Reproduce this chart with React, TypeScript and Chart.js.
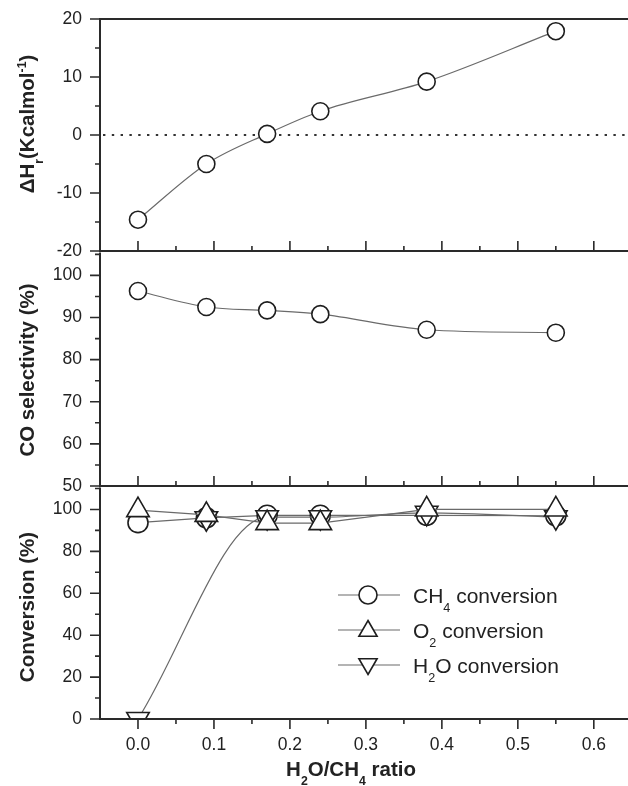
import React, { useEffect, useRef } from 'react';
import { Chart, registerables } from 'chart.js';

Chart.register(...registerables);

// ---------------- data ----------------
const ratio = [0, 0.09, 0.17, 0.24, 0.38, 0.55];
const deltaH = [-14.6, -5.0, 0.2, 4.1, 9.2, 17.9];
const coSelectivity = [96.3, 92.5, 91.7, 90.8, 87.1, 86.4];
const ch4Conversion = [93.7, 96.0, 97.2, 97.2, 97.2, 97.0];
const o2Conversion = [99.7, 97.4, 93.5, 93.5, 100.0, 100.0];
const h2oConversion = [0, 95.8, 96.3, 96.3, 98.4, 96.3];
const zeroLineValue = 0;

const xMin = -0.05;
const xMax = 0.645;
const xStep = 0.1;

// ---------------- style ----------------
const FAMILY = "'Liberation Sans', Arial, Helvetica, sans-serif";
const AXIS = '#2a2a2a';
const LINE = '#6a6a6a';
const MARK = '#1e1e1e';
const TEXT = '#222222';
const TICK_FONT = 17.5;
const TITLE_FONT = 20.5;
const LEGEND_FONT = 21;
const PLOT_LEFT = 100;

type Seg = { t: string; s?: 'sub' | 'sup' };

function drawRich(
  ctx: CanvasRenderingContext2D,
  segs: Seg[],
  x: number,
  y: number,
  size: number,
  weight: string,
  rotate = 0,
  align: 'center' | 'left' = 'center'
) {
  const small = size * 0.6;
  const fontOf = (sz: number) => `${weight} ${sz}px ${FAMILY}`;
  ctx.save();
  let total = 0;
  const widths = segs.map((seg) => {
    ctx.font = fontOf(seg.s ? small : size);
    const w = ctx.measureText(seg.t).width;
    total += w;
    return w;
  });
  ctx.translate(x, y);
  if (rotate) ctx.rotate(rotate);
  ctx.fillStyle = TEXT;
  ctx.textBaseline = 'alphabetic';
  ctx.textAlign = 'left';
  let cx = align === 'center' ? -total / 2 : 0;
  segs.forEach((seg, i) => {
    ctx.font = fontOf(seg.s ? small : size);
    const dy = seg.s === 'sub' ? size * 0.42 : seg.s === 'sup' ? -size * 0.4 : 0;
    ctx.fillText(seg.t, cx, dy);
    cx += widths[i];
  });
  ctx.restore();
}

function markerPath(ctx: CanvasRenderingContext2D, shape: string, x: number, y: number, r: number) {
  ctx.beginPath();
  if (shape === 'circle') {
    ctx.arc(x, y, r, 0, Math.PI * 2);
  } else {
    const s = Math.sin((2 * Math.PI) / 3) * r;
    const d = shape === 'down' ? -1 : 1;
    ctx.moveTo(x, y - d * r);
    ctx.lineTo(x + s, y + (d * r) / 2);
    ctx.lineTo(x - s, y + (d * r) / 2);
    ctx.closePath();
  }
}

type FrameCfg = {
  drawTop?: boolean;
  xTickDir: number;
  yMinor: number;
  zeroLine?: boolean;
  titles: { segs: Seg[]; x: number; y: number; rotate: number }[];
  legend?: { segs: Seg[]; shape: string; y: number; my: number; r: number }[];
};

function makePlugin(cfg: FrameCfg) {
  return {
    id: 'frame',
    beforeDatasetsDraw(chart: any) {
      if (!cfg.zeroLine) return;
      const { ctx, chartArea: a } = chart;
      const py = chart.scales.y.getPixelForValue(zeroLineValue);
      ctx.save();
      ctx.strokeStyle = '#333';
      ctx.lineWidth = 1.8;
      ctx.setLineDash([2.4, 6.4]);
      ctx.beginPath();
      ctx.moveTo(a.left + 3, py);
      ctx.lineTo(a.right, py);
      ctx.stroke();
      ctx.restore();
    },
    afterDatasetsDraw(chart: any) {
      const { ctx, chartArea: a } = chart;
      const xs = chart.scales.x;
      const ys = chart.scales.y;
      ctx.save();
      ctx.strokeStyle = AXIS;
      ctx.lineWidth = 1.6;
      ctx.beginPath();
      for (let k = 0; k < 40; k++) {
        const v = (k * xStep) / 2;
        if (v > xs.max + 1e-9) break;
        const px = xs.getPixelForValue(v);
        const len = k % 2 === 0 ? 10 : 5;
        ctx.moveTo(px, a.bottom);
        ctx.lineTo(px, a.bottom + cfg.xTickDir * len);
      }
      for (let k = 0; k < 60; k++) {
        const v = ys.min + k * cfg.yMinor;
        if (v > ys.max + 1e-9) break;
        const py = ys.getPixelForValue(v);
        const len = k % 2 === 0 ? 10 : 5;
        ctx.moveTo(a.left - len, py);
        ctx.lineTo(a.left, py);
      }
      ctx.stroke();
      ctx.lineWidth = 2;
      ctx.beginPath();
      ctx.moveTo(a.left, a.top - 1);
      ctx.lineTo(a.left, a.bottom + 1);
      ctx.moveTo(a.left - 1, a.bottom);
      ctx.lineTo(a.right, a.bottom);
      if (cfg.drawTop) {
        ctx.moveTo(a.left - 1, a.top);
        ctx.lineTo(a.right, a.top);
      }
      ctx.stroke();
      ctx.restore();
    },
    afterDraw(chart: any) {
      const { ctx } = chart;
      cfg.titles.forEach((t) => drawRich(ctx, t.segs, t.x, t.y, TITLE_FONT, 'bold', t.rotate));
      if (cfg.legend) {
        cfg.legend.forEach((it) => {
          ctx.save();
          ctx.strokeStyle = LINE;
          ctx.lineWidth = 1.2;
          ctx.beginPath();
          ctx.moveTo(338, it.y);
          ctx.lineTo(400, it.y);
          ctx.stroke();
          markerPath(ctx, it.shape, 368, it.my, it.r);
          ctx.fillStyle = '#ffffff';
          ctx.fill();
          ctx.strokeStyle = MARK;
          ctx.lineWidth = 1.6;
          ctx.stroke();
          ctx.restore();
          drawRich(ctx, it.segs, 413, it.y + 8, LEGEND_FONT, 'normal', 0, 'left');
        });
      }
    },
  };
}

function xScale(show: boolean) {
  const s: any = {
    type: 'linear',
    min: xMin,
    max: xMax,
    display: show,
    grid: { display: true, drawOnChartArea: false, drawTicks: true, tickLength: 10, color: 'rgba(0,0,0,0)' },
    border: { display: false },
    ticks: {
      stepSize: xStep,
      includeBounds: false,
      padding: 6,
      autoSkip: false,
      maxRotation: 0,
      color: TEXT,
      font: { family: FAMILY, size: TICK_FONT },
      callback: (v: any) => Number(v).toFixed(1),
    },
  };
  if (show) {
    s.afterFit = (sc: any) => {
      sc.height = 67;
    };
  }
  return s;
}

function yScale(min: number, max: number, step: number) {
  return {
    type: 'linear',
    min,
    max,
    afterFit: (s: any) => {
      s.width = PLOT_LEFT;
    },
    grid: { display: true, drawOnChartArea: false, drawTicks: true, tickLength: 10, color: 'rgba(0,0,0,0)' },
    border: { display: false },
    ticks: {
      stepSize: step,
      includeBounds: false,
      padding: 8,
      color: TEXT,
      font: { family: FAMILY, size: TICK_FONT },
    },
  };
}

function baseOptions(padTop: number, padBottom: number, showX: boolean, yMin: number, yMax: number, yStep: number) {
  return {
    responsive: false,
    maintainAspectRatio: false,
    animation: false,
    devicePixelRatio: 1,
    events: [],
    layout: { autoPadding: false, padding: { left: 0, right: 0, top: padTop, bottom: padBottom } },
    plugins: { legend: { display: false }, tooltip: { enabled: false } },
    scales: { x: xScale(showX), y: yScale(yMin, yMax, yStep) },
  };
}

const pts = (ys: number[]) => ratio.map((x, i) => ({ x, y: ys[i] }));

function lineDs(data: any, extra: any) {
  return {
    data,
    borderColor: LINE,
    borderWidth: 1.2,
    pointBorderColor: MARK,
    pointBackgroundColor: '#ffffff',
    pointBorderWidth: 1.6,
    pointHoverRadius: 0,
    fill: false,
    ...extra,
  };
}

// ---------------- panels ----------------
const TOP_A = 0;
const TOP_B = 235;
const TOP_C = 470;

function buildTop() {
  return {
    type: 'line',
    data: {
      datasets: [
        lineDs(pts(deltaH), {
          label: 'ΔHr',
          pointStyle: 'circle',
          pointRadius: 8.5,
          cubicInterpolationMode: 'monotone',
        }),
      ],
    },
    options: baseOptions(19, 21, false, -20, 20, 10),
    plugins: [
      makePlugin({
        drawTop: true,
        xTickDir: -1,
        yMinor: 5,
        zeroLine: true,
        titles: [
          {
            segs: [{ t: 'ΔH' }, { t: 'r', s: 'sub' }, { t: '(Kcalmol' }, { t: '-1', s: 'sup' }, { t: ')' }],
            x: 34,
            y: 124 - TOP_A,
            rotate: -Math.PI / 2,
          },
        ],
      }),
    ],
  };
}

function buildMid() {
  return {
    type: 'line',
    data: {
      datasets: [
        lineDs(pts(coSelectivity), {
          label: 'CO selectivity',
          pointStyle: 'circle',
          pointRadius: 8.5,
          cubicInterpolationMode: 'monotone',
        }),
      ],
    },
    options: baseOptions(16, 19, false, 50, 105.2, 10),
    plugins: [
      makePlugin({
        xTickDir: -1,
        yMinor: 5,
        titles: [{ segs: [{ t: 'CO selectivity (%)' }], x: 34, y: 370 - TOP_B, rotate: -Math.PI / 2 }],
      }),
    ],
  };
}

function buildBottom() {
  return {
    type: 'line',
    data: {
      datasets: [
        lineDs(pts(o2Conversion), {
          label: 'O2 conversion',
          order: 1,
          pointStyle: 'triangle',
          pointRadius: 13,
          tension: 0,
          clip: 0,
        }),
        lineDs(pts(h2oConversion), {
          label: 'H2O conversion',
          order: 2,
          showLine: false,
          pointStyle: 'triangle',
          pointRotation: 180,
          pointRadius: 13,
          clip: 0,
        }),
        lineDs(
          pts(h2oConversion).filter((_, i) => i !== 1),
          {
            label: 'H2O conversion curve',
            order: 3,
            pointRadius: 0,
            cubicInterpolationMode: 'monotone',
            clip: 0,
          }
        ),
        lineDs(pts(ch4Conversion), {
          label: 'CH4 conversion',
          order: 4,
          pointStyle: 'circle',
          pointRadius: 10,
          tension: 0,
          clip: 0,
        }),
      ],
    },
    options: baseOptions(16, 0, true, 0, 110, 20),
    plugins: [
      makePlugin({
        xTickDir: 1,
        yMinor: 10,
        titles: [
          { segs: [{ t: 'Conversion (%)' }], x: 34, y: 607 - TOP_C, rotate: -Math.PI / 2 },
          {
            segs: [{ t: 'H' }, { t: '2', s: 'sub' }, { t: 'O/CH' }, { t: '4', s: 'sub' }, { t: ' ratio' }],
            x: 351,
            y: 776 - TOP_C,
            rotate: 0,
          },
        ],
        legend: [
          { segs: [{ t: 'CH' }, { t: '4', s: 'sub' }, { t: ' conversion' }], shape: 'circle', y: 595 - TOP_C, my: 595 - TOP_C, r: 9 },
          { segs: [{ t: 'O' }, { t: '2', s: 'sub' }, { t: ' conversion' }], shape: 'up', y: 630 - TOP_C, my: 631 - TOP_C, r: 10.5 },
          { segs: [{ t: 'H' }, { t: '2', s: 'sub' }, { t: 'O conversion' }], shape: 'down', y: 665 - TOP_C, my: 664 - TOP_C, r: 10.5 },
        ],
      }),
    ],
  };
}

function ChartCanvas({ top, height, build }: { top: number; height: number; build: () => any }) {
  const ref = useRef<HTMLCanvasElement>(null);
  useEffect(() => {
    const chart = new Chart(ref.current as HTMLCanvasElement, build());
    return () => chart.destroy();
  }, [build]);
  return (
    <canvas
      ref={ref}
      width={628}
      height={height}
      style={{ position: 'absolute', left: 0, top, width: 628, height, display: 'block' }}
    />
  );
}

export default function App() {
  return (
    <div style={{ position: 'absolute', left: 0, top: 0, width: 628, height: 786, background: '#ffffff', overflow: 'hidden' }}>
      <ChartCanvas top={TOP_A} height={272} build={buildTop} />
      <ChartCanvas top={TOP_B} height={270} build={buildMid} />
      <ChartCanvas top={TOP_C} height={316} build={buildBottom} />
    </div>
  );
}
